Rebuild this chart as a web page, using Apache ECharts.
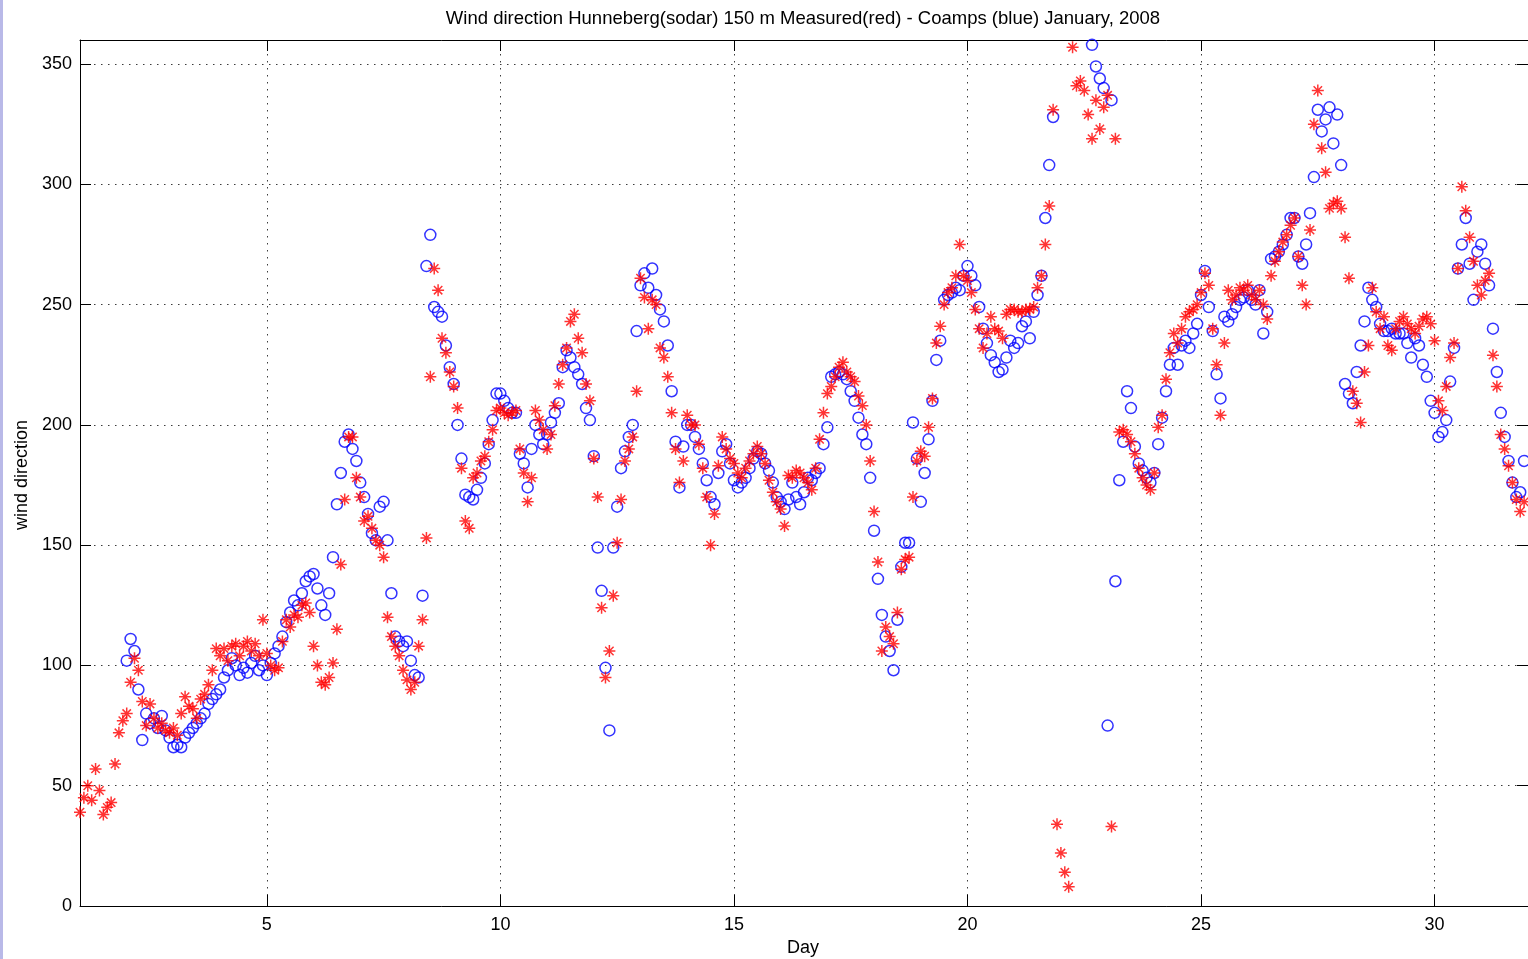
<!DOCTYPE html>
<html>
<head>
<meta charset="utf-8">
<script src="https://cdn.jsdelivr.net/npm/echarts@6/dist/echarts.min.js"></script>
<style>
html,body{margin:0;padding:0;background:#fff;}
#c{position:absolute;left:0;top:0;width:1528px;height:959px;}
#edge{position:absolute;left:0;top:0;width:3px;height:959px;background:#b9b9e8;}
</style>
</head>
<body>
<div id="c"></div>
<div id="edge"></div>
<script>
// Time base: first sample at day 1, one sample every 2 hours (12 per day)
const startDay = 1;
const samplesPerDay = 12;

const xTicks = [5, 10, 15, 20, 25, 30];
const yTicks = [0, 50, 100, 150, 200, 250, 300, 350];

// Measured (sodar, red) wind direction in degrees, one row per day (day 1 .. day 31)
const measuredDeg = [
  39, 45, 50, 44, 57, 48, 38, 41, 43, 59, 72, 77,
  80, 93, 103, 98, 85, 75, 84, 78, 74, 76, 73, 72,
  74, 71, 80, 87, 83, 82, 78, 86, 88, 92, 98, 107,
  104, 107, 102, 108, 109, 104, 108, 110, 106, 109, 104, 119,
  105, 100, 98, 99, 110, 119, 116, 121, 120, 125, 126, 122,
  108, 100, 93, 92, 95, 101, 115, 142, 169, 195, 195, 178,
  170, 160, 162, 157, 152, 150, 145, 120, 112, 108, 104, 98,
  94, 90, 93, 108, 119, 153, 220, 265, 256, 236, 230, 222,
  216, 207, 182, 160, 157, 178, 180, 185, 187, 193, 198, 206,
  207, 205, 204, 205, 206, 190, 180, 168, 178, 206, 202, 198,
  190, 196, 208, 217, 225, 232, 243, 246, 236, 230, 217, 210,
  186, 170, 124, 95, 106, 129, 151, 169, 185, 190, 195, 214,
  261, 253, 240, 252, 250, 232, 228, 220, 205, 190, 176, 185,
  204, 200, 200, 192, 182, 170, 150, 163, 183, 195, 190, 186,
  184, 180, 178, 182, 185, 188, 191, 188, 184, 177, 172, 168,
  165, 158, 179, 178, 181, 180, 178, 176, 173, 182, 194, 205,
  213, 216, 220, 224, 226, 222, 220, 218, 212, 208, 200, 185,
  164, 143, 106, 116, 112, 109, 122, 140, 144, 145, 170, 185,
  189, 187, 199, 211, 234, 241, 250, 255, 257, 262, 275, 262,
  260, 255, 248, 240, 232, 238, 245, 240, 239, 236, 246, 248,
  248, 247, 247, 248, 248, 249, 257, 262, 275, 291, 331, 34,
  22, 14, 8, 357, 341, 343, 339, 329, 319, 335, 323, 332,
  337, 33, 319, 197, 198, 196, 193, 188, 182, 178, 175, 173,
  180, 199, 204, 219, 230, 238, 234, 240, 245, 247, 248, 250,
  255, 263, 258, 240, 225, 204, 234, 256, 252, 254, 257, 256,
  258, 254, 252, 256, 250, 244, 262, 268, 272, 276, 279, 283,
  286, 270, 258, 250, 281, 325, 339, 315, 305, 290, 292, 293,
  290, 278, 261, 214, 209, 201, 222, 233, 257, 247, 240, 245,
  233, 231, 240, 243, 245, 242, 240, 238, 241, 244, 245, 242,
  235, 210, 206, 216, 228, 234, 265, 299, 289, 278, 268, 258,
  254, 260, 263, 229, 216, 196, 190, 183, 176, 169, 164, 168
];

// Coamps model (blue) wind direction in degrees, one row per day (day 1 .. day 31)
const coampsDeg = [
  null, null, null, null, null, null, null, null, null, null, null, null,
  102, 111, 106, 90, 69, 80, 76, 78, 74, 79, 73, 70,
  66, 67, 66, 70, 72, 74, 76, 78, 80, 84, 86, 88,
  90, 95, 98, 103, 100, 96, 99, 97, 101, 104, 98, 100,
  96, 101, 105, 108, 112, 118, 122, 127, 125, 130, 135, 137,
  138, 132, 125, 121, 130, 145, 167, 180, 193, 196, 190, 185,
  176, 170, 163, 155, 152, 166, 168, 152, 130, 112, 110, 108,
  110, 102, 96, 95, 129, 266, 279, 249, 247, 245, 233, 224,
  217, 200, 186, 171, 170, 169, 173, 178, 184, 192, 202, 213,
  213, 210, 207, 205, 205, 188, 184, 174, 190, 200, 196, 192,
  196, 201, 205, 209, 224, 231, 228, 224, 221, 217, 207, 202,
  187, 149, 131, 99, 73, 149, 166, 182, 189, 195, 200, 239,
  258, 263, 257, 265, 254, 248, 243, 233, 214, 193, 174, 191,
  200, 200, 195, 190, 184, 177, 170, 167, 180, 189, 192, 184,
  177, 174, 176, 178, 182, 186, 189, 188, 184, 181, 176, 170,
  168, 165, 169, 176, 170, 167, 172, 178, 177, 180, 182, 192,
  199, 220, 221, 222, 221, 219, 214, 210, 203, 196, 192, 178,
  156, 136, 121, 112, 106, 98, 119, 141, 151, 151, 201, 186,
  168, 180, 194, 210, 227, 235, 252, 254, 255, 257, 256, 262,
  266, 262, 258, 249, 240, 234, 229, 226, 222, 223, 228, 235,
  232, 234, 241, 243, 236, 247, 254, 262, 286, 308, 328, null,
  null, null, null, null, null, null, null, null, 358, 349, 344, 340,
  75, 335, 135, 177, 193, 214, 207, 191, 184, 181, 178, 176,
  180, 192, 203, 214, 225, 232, 225, 233, 235, 232, 238, 242,
  254, 264, 249, 239, 221, 211, 245, 243, 246, 249, 252, 253,
  256, 252, 250, 256, 238, 247, 269, 270, 272, 275, 279, 286,
  286, 270, 267, 275, 288, 303, 331, 322, 327, 332, 317, 329,
  308, 217, 213, 209, 222, 233, 243, 257, 252, 249, 242, 239,
  239, 240, 238, 238, 238, 234, 228, 236, 233, 225, 220, 210,
  205, 195, 197, 202, 218, 232, 265, 275, 286, 267, 252, 272,
  275, 267, 258, 240, 222, 205, 195, 185, 176, 170, 172, 185
];

const titleText = 'Wind direction Hunneberg(sodar) 150 m Measured(red) - Coamps (blue) January, 2008';
const xName = 'Day';
const yName = 'wind direction';

function toPoints(vals) {
  const pts = [];
  vals.forEach(function (v, i) {
    if (v !== null) pts.push([startDay + i / samplesPerDay, v]);
  });
  return pts;
}

const FONT = '"Liberation Sans", Arial, sans-serif';
const FS = 18;

function xAxisDef(pos, labels) {
  return {
    type: 'value', min: 1, max: 32, position: pos,
    axisLine: { show: true, onZero: false, lineStyle: { color: '#000', width: 1 } },
    axisTick: { show: true, inside: true, length: 11, customValues: xTicks, lineStyle: { color: '#000', width: 1 } },
    axisLabel: { show: labels, customValues: xTicks, margin: 10, color: '#000', fontFamily: FONT, fontSize: FS },
    splitLine: { show: labels, lineStyle: { color: '#3c3c3c', width: 1, type: [1.5, 5.5] } }
  };
}
function yAxisDef(pos, labels) {
  return {
    type: 'value', min: 0, max: 360, position: pos,
    axisLine: { show: true, onZero: false, lineStyle: { color: '#000', width: 1 } },
    axisTick: { show: true, inside: true, length: 11, customValues: yTicks, lineStyle: { color: '#000', width: 1 } },
    axisLabel: { show: labels, customValues: yTicks, margin: 8, color: '#000', fontFamily: FONT, fontSize: FS },
    splitLine: { show: labels, lineStyle: { color: '#3c3c3c', width: 1, type: [1.5, 5.5] } }
  };
}

const chart = echarts.init(document.getElementById('c'), null, { renderer: 'canvas' });
chart.setOption({
  animation: false,
  backgroundColor: '#fff',
  grid: { left: 80, top: 40, width: 1452, height: 866, containLabel: false, show: false },
  xAxis: [xAxisDef('bottom', true), xAxisDef('top', false)],
  yAxis: [yAxisDef('left', true), yAxisDef('right', false)],
  graphic: [
    { type: 'text', x: 803, y: 19, style: { text: titleText, font: '18.5px ' + FONT, fill: '#000', align: 'center', verticalAlign: 'middle', textAlign: 'center', textVerticalAlign: 'middle' } },
    { type: 'text', x: 803, y: 948, style: { text: xName, font: '18px ' + FONT, fill: '#000', align: 'center', verticalAlign: 'middle', textAlign: 'center', textVerticalAlign: 'middle' } },
    { type: 'text', x: 22, y: 475, rotation: Math.PI / 2, style: { text: yName, font: '18px ' + FONT, fill: '#000', align: 'center', verticalAlign: 'middle', textAlign: 'center', textVerticalAlign: 'middle' } }
  ],
  series: [
    {
      name: 'Coamps', type: 'scatter', xAxisIndex: 0, yAxisIndex: 0,
      data: toPoints(coampsDeg), symbol: 'circle', symbolSize: 11, silent: true, z: 2,
      itemStyle: { color: 'rgba(0,0,0,0)', borderColor: '#0000ff', borderWidth: 1.5 }
    },
    {
      name: 'Measured', type: 'scatter', xAxisIndex: 0, yAxisIndex: 0,
      data: toPoints(measuredDeg),
      symbol: 'path://M0,-5L0,5M-5,0L5,0M-3.5,-3.5L3.5,3.5M-3.5,3.5L3.5,-3.5',
      symbolSize: 12, silent: true, z: 3,
      itemStyle: { color: '#ff0000', borderColor: '#ff0000', borderWidth: 1.5 }
    }
  ]
});
</script>
</body>
</html>
